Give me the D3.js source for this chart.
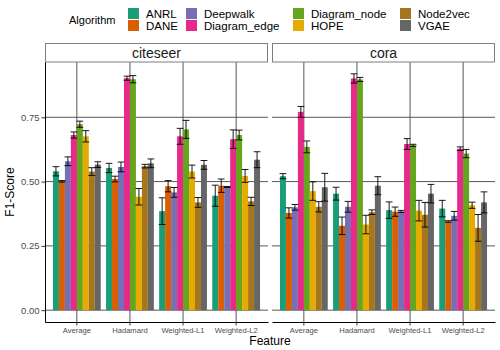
<!DOCTYPE html>
<html>
<head>
<meta charset="utf-8">
<script src="https://cdn.jsdelivr.net/npm/d3@7"></script>
<style>
  body { margin: 0; background: #fff; }
  svg { font-family: "Liberation Sans", Arial, sans-serif; }
</style>
</head>
<body>
<div id="chart"></div>
<script>
// data
const datasets = ["citeseer", "cora"];
const features = ["Average", "Hadamard", "Weighted-L1", "Weighted-L2"];
const algorithms = ["ANRL", "DANE", "Deepwalk", "Diagram_edge", "Diagram_node", "HOPE", "Node2vec", "VGAE"];
const colors = ["#1B9E77", "#D95F02", "#7570B3", "#E7298A", "#66A61E", "#E6AB02", "#A6761D", "#666666"];

// rows = feature, columns = algorithm
const citeseerF1 = [
  [0.540, 0.501, 0.579, 0.681, 0.723, 0.676, 0.539, 0.566],
  [0.553, 0.510, 0.557, 0.902, 0.898, 0.441, 0.560, 0.571],
  [0.385, 0.482, 0.458, 0.676, 0.703, 0.539, 0.419, 0.565],
  [0.445, 0.484, 0.479, 0.665, 0.681, 0.522, 0.423, 0.585]
];
const citeseerErr = [
  [0.018, 0.003, 0.017, 0.012, 0.012, 0.022, 0.015, 0.011],
  [0.018, 0.011, 0.019, 0.008, 0.014, 0.032, 0.007, 0.017],
  [0.052, 0.022, 0.019, 0.031, 0.035, 0.025, 0.019, 0.017],
  [0.041, 0.026, 0.002, 0.036, 0.019, 0.025, 0.016, 0.031]
];
const coraF1 = [
  [0.521, 0.378, 0.400, 0.771, 0.635, 0.463, 0.402, 0.478],
  [0.453, 0.328, 0.402, 0.901, 0.897, 0.333, 0.381, 0.484],
  [0.389, 0.383, 0.384, 0.646, 0.641, 0.387, 0.371, 0.453],
  [0.395, 0.345, 0.367, 0.628, 0.609, 0.408, 0.320, 0.419]
];
const coraErr = [
  [0.010, 0.020, 0.011, 0.021, 0.023, 0.036, 0.020, 0.054],
  [0.025, 0.034, 0.021, 0.018, 0.008, 0.036, 0.009, 0.035],
  [0.032, 0.018, 0.004, 0.021, 0.004, 0.040, 0.048, 0.036],
  [0.032, 0.003, 0.017, 0.007, 0.016, 0.012, 0.052, 0.041]
];
const yTicks = [0, 0.25, 0.5, 0.75];

const W = 500, H = 350;
const panelTop = 62, panelBottom = 322;
const panels = [
  { name: "citeseer", x0: 45, x1: 268, f1: citeseerF1, err: citeseerErr },
  { name: "cora", x0: 272, x1: 495, f1: coraF1, err: coraErr }
];

const svg = d3.select("#chart").append("svg")
  .attr("width", W).attr("height", H);

// y scale with ggplot-like 5% expansion
const hi = d3.max(panels, p => d3.max(p.f1.flatMap((r, i) => r.map((v, j) => v + p.err[i][j]))));
const pad = 0.05 * hi;
const y = d3.scaleLinear().domain([-pad, hi + pad]).range([panelBottom, panelTop]);

const color = d3.scaleOrdinal().domain(algorithms).range(colors);

panels.forEach((p, pi) => {
  const g = svg.append("g");

  const x = d3.scaleBand()
    .domain(features)
    .range([p.x0, p.x1])
    .paddingInner(0.1)
    .paddingOuter(0.15);
  const xa = d3.scaleBand()
    .domain(algorithms)
    .range([0, x.bandwidth()]);

  // grid
  g.selectAll("line.hgrid")
    .data(yTicks)
    .enter().append("line")
    .attr("x1", p.x0).attr("x2", p.x1)
    .attr("y1", d => y(d)).attr("y2", d => y(d))
    .attr("stroke", "#444").attr("stroke-width", 0.9);
  g.selectAll("line.vgrid")
    .data(features)
    .enter().append("line")
    .attr("x1", d => x(d) + x.bandwidth() / 2).attr("x2", d => x(d) + x.bandwidth() / 2)
    .attr("y1", panelTop).attr("y2", panelBottom)
    .attr("stroke", "#444").attr("stroke-width", 0.9);

  // bars
  const rows = [];
  features.forEach((f, i) => algorithms.forEach((a, j) => {
    rows.push({ f: f, a: a, v: p.f1[i][j], e: p.err[i][j] });
  }));

  g.selectAll("rect.bar")
    .data(rows)
    .enter().append("rect")
    .attr("x", d => x(d.f) + xa(d.a))
    .attr("width", xa.bandwidth())
    .attr("y", d => y(d.v))
    .attr("height", d => y(0) - y(d.v))
    .attr("fill", d => color(d.a));

  // error bars
  const eb = g.selectAll("g.err")
    .data(rows)
    .enter().append("g")
    .attr("stroke", "#000").attr("stroke-width", 0.9);
  const cx = d => x(d.f) + xa(d.a) + xa.bandwidth() / 2;
  const hw = xa.bandwidth() / 2 + 0.4;
  eb.append("line")
    .attr("x1", cx).attr("x2", cx)
    .attr("y1", d => y(d.v - d.e)).attr("y2", d => y(d.v + d.e));
  eb.append("line")
    .attr("x1", d => cx(d) - hw).attr("x2", d => cx(d) + hw)
    .attr("y1", d => y(d.v + d.e)).attr("y2", d => y(d.v + d.e));
  eb.append("line")
    .attr("x1", d => cx(d) - hw).attr("x2", d => cx(d) + hw)
    .attr("y1", d => y(d.v - d.e)).attr("y2", d => y(d.v - d.e));

  // strip
  g.append("rect")
    .attr("x", p.x0 + 0.5).attr("y", 43.5)
    .attr("width", p.x1 - p.x0 - 1).attr("height", panelTop - 43.5)
    .attr("fill", "#fff").attr("stroke", "#7f7f7f").attr("stroke-width", 1);
  g.append("text")
    .attr("x", (p.x0 + p.x1) / 2).attr("y", 58)
    .attr("text-anchor", "middle")
    .style("font-size", "14px").style("fill", "#1a1a1a")
    .text(p.name);

  // x axis
  const gx = g.append("g")
    .attr("transform", `translate(0,${panelBottom})`)
    .call(d3.axisBottom(x).tickSize(3.5).tickPadding(2).tickSizeOuter(0));
  gx.select(".domain").attr("stroke", "#000").attr("stroke-width", 1);
  gx.selectAll(".tick line").attr("stroke", "#333");
  gx.selectAll("text").style("font-size", "7.6px").style("fill", "#4d4d4d")
    .style("font-family", "'Liberation Sans', Arial, sans-serif");

  // y axis only on first panel
  if (pi === 0) {
    const gy = g.append("g")
      .attr("transform", `translate(${p.x0},0)`)
      .call(d3.axisLeft(y).tickValues(yTicks).tickFormat(d3.format(".2f"))
        .tickSize(3.5).tickPadding(2).tickSizeOuter(0));
    gy.select(".domain").attr("stroke", "#000").attr("stroke-width", 1);
    gy.selectAll(".tick line").attr("stroke", "#333");
    gy.selectAll("text").style("font-size", "9.5px").style("fill", "#4d4d4d")
      .style("font-family", "'Liberation Sans', Arial, sans-serif");
  }
});

// axis titles
svg.append("text")
  .attr("x", 270).attr("y", 345)
  .attr("text-anchor", "middle")
  .style("font-size", "12px")
  .text("Feature");
svg.append("text")
  .attr("transform", `translate(14,${(panelTop + panelBottom) / 2}) rotate(-90)`)
  .attr("text-anchor", "middle")
  .style("font-size", "12px")
  .text("F1-Score");

// legend (2 rows, 4 columns)
const legend = svg.append("g");
legend.append("text")
  .attr("x", 69).attr("y", 24)
  .style("font-size", "11px")
  .text("Algorithm");
const colX = [128, 186, 293, 400];
const item = legend.selectAll("g.item")
  .data(algorithms)
  .enter().append("g")
  .attr("transform", (d, i) => `translate(${colX[Math.floor(i / 2)]},${8 + (i % 2) * 12})`);
item.append("rect")
  .attr("width", 11).attr("height", 11)
  .attr("fill", d => color(d));
item.append("text")
  .attr("x", 18).attr("y", 9.5)
  .style("font-size", "11.5px")
  .text(d => d);
</script>
</body>
</html>
